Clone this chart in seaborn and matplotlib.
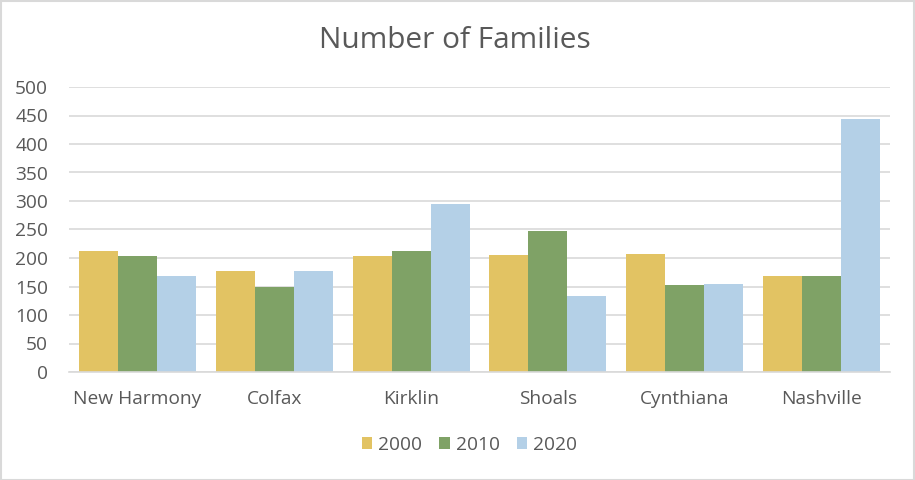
import matplotlib
matplotlib.use("Agg")
import matplotlib.pyplot as plt
import pandas as pd
import seaborn as sns

towns = ["New Harmony", "Colfax", "Kirklin", "Shoals", "Cynthiana", "Nashville"]
years = ["2000", "2010", "2020"]
families_2000 = [212, 178, 203, 205, 207, 168]
families_2010 = [203, 150, 212, 248, 152, 168]
families_2020 = [169, 178, 294, 133, 154, 443]
y_ticks = [0, 50, 100, 150, 200, 250, 300, 350, 400, 450, 500]

colors = ["#E2C363", "#7FA266", "#B4D0E7"]
text_color = "#595959"
grid_color = "#D9D9D9"

rows = []
for year, vals in zip(years, [families_2000, families_2010, families_2020]):
    for town, v in zip(towns, vals):
        rows.append({"town": town, "year": year, "families": v})
df = pd.DataFrame(rows)

sns.set_theme(style="white")
plt.rcParams["font.family"] = ["Open Sans", "DejaVu Sans"]

fig = plt.figure(figsize=(9.15, 4.8), dpi=100)
ax = fig.add_axes([69 / 915, 1 - 372 / 480, 821 / 915, 285 / 480])

sns.barplot(
    data=df, x="town", y="families", hue="year", order=towns, hue_order=years,
    palette=colors, width=0.855, saturation=1, linewidth=0, ax=ax, legend=True,
)

ax.set_ylim(0, 500)
ax.set_yticks(y_ticks)
ax.yaxis.grid(True, color=grid_color, linewidth=1.2)
ax.set_axisbelow(True)
for side in ["top", "right", "left"]:
    ax.spines[side].set_visible(False)
ax.spines["bottom"].set_color(grid_color)
ax.spines["bottom"].set_linewidth(1.2)
ax.tick_params(axis="both", length=0, labelsize=13.8, colors=text_color)
ax.tick_params(axis="y", pad=15)
ax.tick_params(axis="x", pad=13)
ax.set_xlabel("")
ax.set_ylabel("")

ax.legend(
    loc="center", bbox_to_anchor=(0.5 - 10 / 821, (372 - 445) / 285),
    ncol=3, frameon=False, fontsize=13.8, labelcolor=text_color,
    handlelength=0.55, handleheight=0.55, handletextpad=0.3, columnspacing=0.9,
    bbox_transform=ax.transAxes,
)

fig.text(0.5 - 3 / 915, 1 - 40 / 480, "Number of Families", ha="center", va="center",
         fontsize=21.5, color=text_color)

fig.patches.append(plt.Rectangle((0.001, 0.001), 0.998, 0.997, transform=fig.transFigure,
                                 fill=False, edgecolor=grid_color, linewidth=1.5))

fig.savefig("out.png", dpi=100)
